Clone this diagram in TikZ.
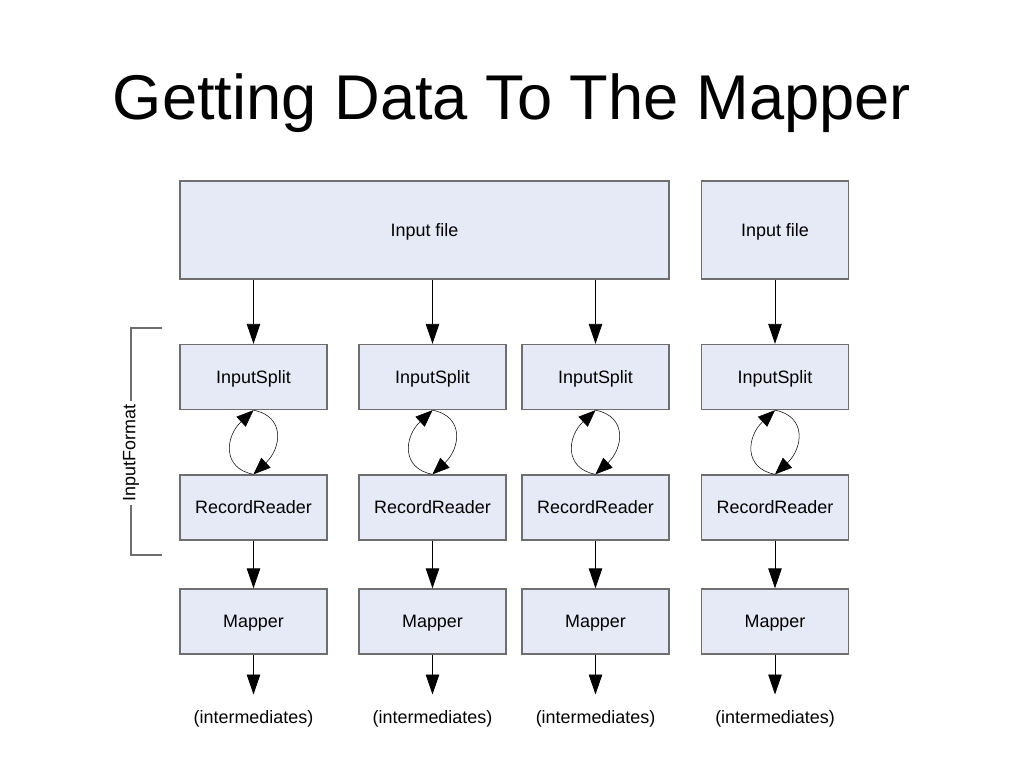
\documentclass[tikz,border=0pt]{standalone}
\usepackage{fontspec}
\setmainfont{Liberation Sans}
\usetikzlibrary{arrows.meta}
\definecolor{boxfill}{RGB}{230,234,246}
\definecolor{boxline}{RGB}{110,110,110}
\tikzset{
  box/.style={draw=boxline, fill=boxfill, line width=0.8pt, minimum width=2.94cm,
    minimum height=1.3cm, inner sep=0pt, text depth=0.5pt, font=\fontsize{10.2}{12}\selectfont},
  result/.style={inner xsep=0pt, inner ysep=9pt, font=\fontsize{10.2}{12}\selectfont},
  flow/.style={-{Triangle[length=0.4cm,width=0.27cm]}, line width=0.5pt},
  turn/.style={-{Triangle[length=0.34cm,width=0.27cm]}, line width=0.3pt},
  bracket/.style={draw=boxline, line width=0.6pt}
}

\begin{document}
\begin{tikzpicture}[x=0.02cm,y=-0.02cm]
\useasboundingbox (0,0) rectangle (1024,768);
\node[font=\fontsize{36}{40}\selectfont, anchor=base] (title) at (512,119) {Getting Data To The Mapper};

% input files
\node[box, minimum width=9.78cm, minimum height=1.96cm] (in1) at (424.5,230) {Input file};
\node[box, minimum height=1.96cm] (in2) at (775,230) {Input file};

% one column per split
\foreach \i/\x in {1/253.5, 2/432.5, 3/595.5, 4/775} {
  \node[box] (split\i) at (\x,377) {InputSplit};
  \node[box] (reader\i) at (\x,507.5) {RecordReader};
  \node[box] (map\i) at (\x,621.5) {Mapper};
  \node[result] (out\i) at (\x,719) {(intermediates)};
  \draw[turn] (reader\i.north) .. controls +(-32,-6) and +(-28,26) .. (split\i.south);
  \draw[turn] (split\i.south) .. controls +(32,6) and +(28,-26) .. (reader\i.north);
  \draw[flow] (reader\i) -- (map\i);
  \draw[flow] (map\i) -- (out\i);
}
\foreach \i in {1,2,3}
  \draw[flow] (split\i.north |- in1.south) -- (split\i.north);
\draw[flow] (in2) -- (split4);

% InputFormat bracket
\node[rotate=90, inner sep=2pt, font=\fontsize{10.2}{12}\selectfont] (fmt) at (131,453) {InputFormat};
\draw[bracket] (fmt.east) -- (131,328) -- (162,328);
\draw[bracket] (fmt.west) -- (131,555) -- (162,555);
\end{tikzpicture}
\end{document}
